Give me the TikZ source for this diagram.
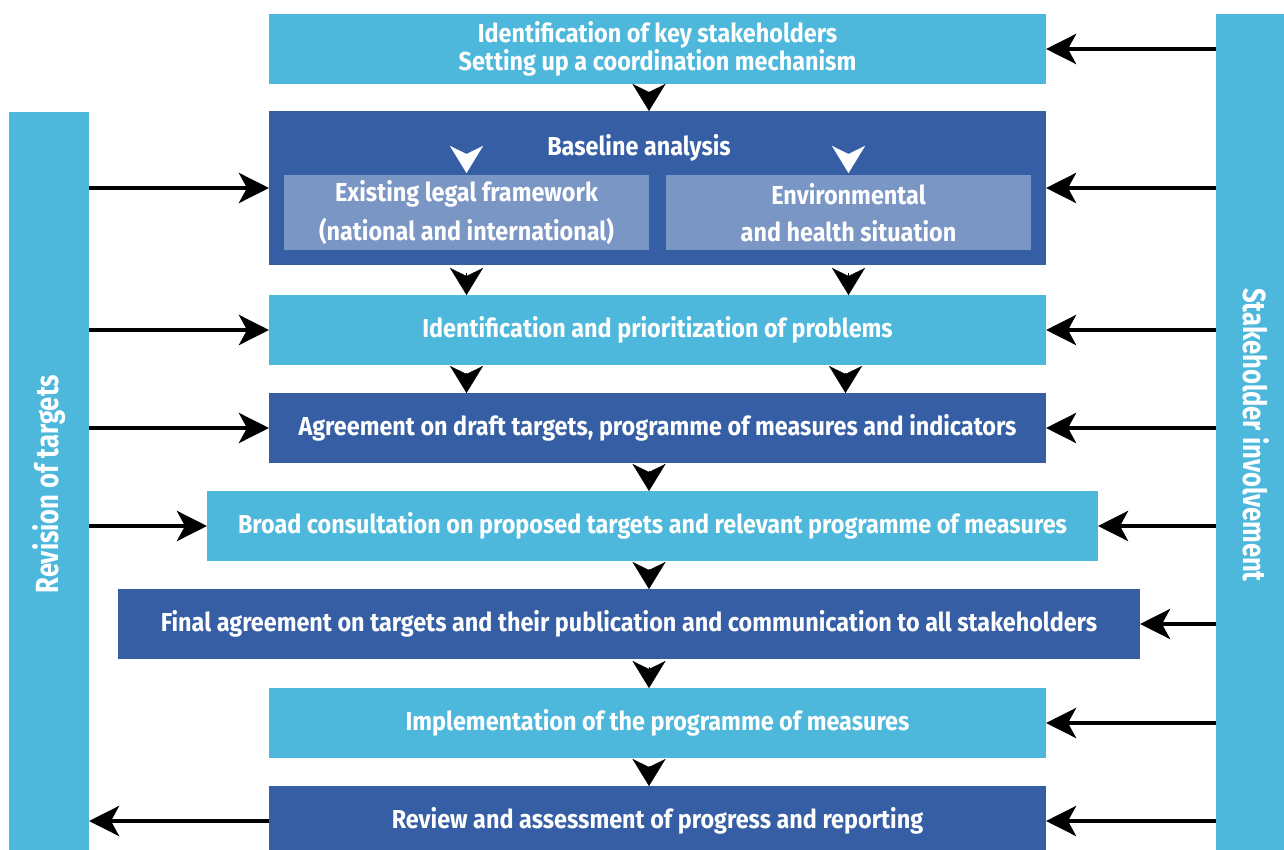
\documentclass[tikz,border=0pt]{standalone}
\usepackage{fontspec}
\setmainfont{Fira Sans}[FakeStretch=0.9]
\newfontfamily\barfont{Fira Sans}[FakeStretch=0.8]
\usetikzlibrary{arrows.meta}

\definecolor{lightblue}{RGB}{77,184,220}
\definecolor{darkblue}{RGB}{53,94,164}
\definecolor{subblue}{RGB}{122,150,196}

\tikzset{
  box/.style={fill=#1, text=white, font=\bfseries\fontsize{13}{14}\selectfont,
    align=center, minimum width=388.5pt, minimum height=35pt, inner sep=0pt, outer sep=0pt},
  subbox/.style={fill=subblue, text=white, font=\bfseries\fontsize{13}{14}\selectfont,
    align=center, minimum width=182.5pt, minimum height=37.5pt, inner sep=0pt, outer sep=0pt},
  sidebar/.style={fill=lightblue, text=white, font=\barfont\bfseries\fontsize{16}{18}\selectfont,
    minimum height=40pt, inner sep=0pt, outer sep=0pt},
  inarrow/.style={line width=2.25pt, -{Stealth[length=15pt, width=15pt, inset=4pt]}},
  chev/.style={line width=0.1pt, shorten <=3.9pt, -{Stealth[length=13.5pt, width=16.5pt, inset=4pt]}},
  midchev/.style={chev, transform canvas={xshift=-4.25pt}},
  wchev/.style={chev, white}
}

\begin{document}
\begin{tikzpicture}[x=0.5pt, y=-0.5pt]
\useasboundingbox (0,0) rectangle (1284,850);

% side bars
\node[sidebar, rotate=90, minimum width=372pt] (lbar) at (49,484) {Revision of targets};
\node[sidebar, rotate=-90, minimum width=421pt] (rbar) at (1256,435) {Stakeholder involvement};

% steps
\node[box=lightblue] (stake) at (657.5,49) {Identification of key stakeholders\\Setting up a coordination mechanism};
\node[box=darkblue, minimum height=77pt] (base) at (657.5,188) {};
\node[text=white, font=\bfseries\fontsize{13}{14}\selectfont] (basetitle) at (639,148) {Baseline analysis};
\node[subbox] (legal) at (466.5,212.5) {Existing legal framework\\[4.5pt](national and international)};
\node[subbox] (envir) at (848.5,212.5) {Environmental\\[4.5pt]and health situation};
\node[box=lightblue] (prob) at (657.5,330) {Identification and prioritization of problems};
\node[box=darkblue] (draft) at (657.5,428) {Agreement on draft targets, programme of measures and indicators};
\node[box=lightblue, minimum width=445.5pt] (consult) at (652.5,526) {Broad consultation on proposed targets and relevant programme of measures};
\node[box=darkblue, minimum width=511pt] (final) at (629,624) {Final agreement on targets and their publication and communication to all stakeholders};
\node[box=lightblue] (impl) at (657.5,723) {Implementation of the programme of measures};
\node[box=darkblue] (review) at (657.5,821) {Review and assessment of progress and reporting};

% flow down
\draw[midchev] (stake.south) -- (base.north);
\draw[wchev] ([yshift=13pt]legal.north) -- ([yshift=1pt]legal.north);
\draw[wchev] ([yshift=13pt]envir.north) -- ([yshift=1pt]envir.north);
\draw[chev] (legal.south |- base.south) -- (legal.south |- prob.north);
\draw[chev] (envir.south |- base.south) -- (envir.south |- prob.north);
\draw[chev] (legal.south |- prob.south) -- (legal.south |- draft.north);
\draw[chev] ([xshift=-1.5pt]envir.south |- prob.south) -- ([xshift=-1.5pt]envir.south |- draft.north);
\draw[midchev] (draft.south) -- (draft.south |- consult.north);
\draw[midchev] ([xshift=2.5pt]consult.south) -- ([xshift=2.5pt]consult.south |- final.north);
\draw[midchev] ([xshift=14.25pt]final.south) -- ([xshift=14.25pt]final.south |- impl.north);
\draw[midchev] (impl.south) -- (review.north);

% stakeholder involvement
\draw[inarrow] (rbar.south |- stake.east) -- (stake.east);
\draw[inarrow] (rbar.south |- base.east) -- (base.east);
\draw[inarrow] (rbar.south |- prob.east) -- (prob.east);
\draw[inarrow] (rbar.south |- draft.east) -- (draft.east);
\draw[inarrow] (rbar.south |- consult.east) -- (consult.east);
\draw[inarrow] (rbar.south |- final.east) -- (final.east);
\draw[inarrow] (rbar.south |- impl.east) -- (impl.east);
\draw[inarrow] (rbar.south |- review.east) -- (review.east);

% revision of targets
\draw[inarrow] (lbar.south |- base.west) -- (base.west);
\draw[inarrow] (lbar.south |- prob.west) -- (prob.west);
\draw[inarrow] (lbar.south |- draft.west) -- (draft.west);
\draw[inarrow] (lbar.south |- consult.west) -- (consult.west);
\draw[inarrow] (review.west) -- (lbar.south |- review.west);
\end{tikzpicture}
\end{document}
